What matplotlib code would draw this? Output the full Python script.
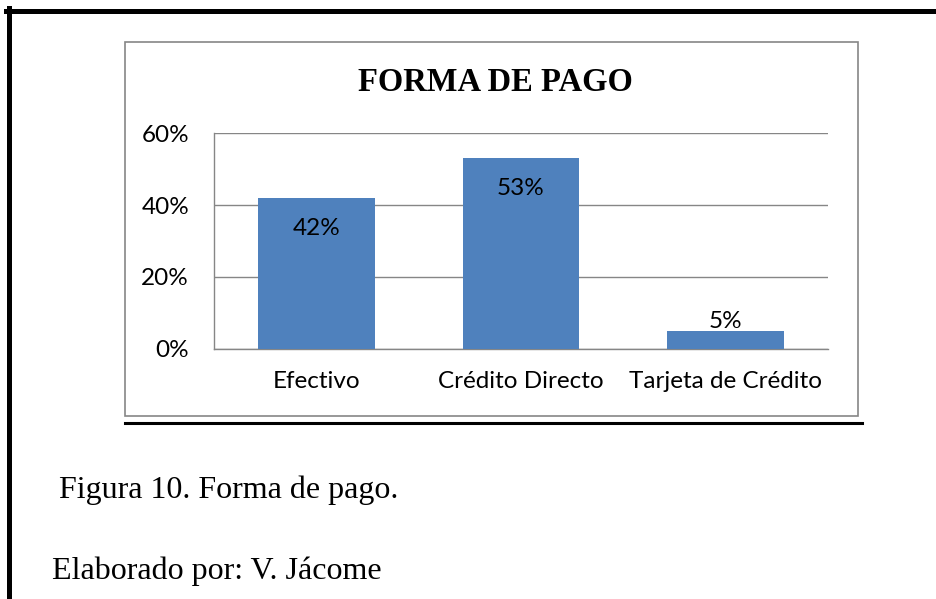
import matplotlib.pyplot as plt
from matplotlib.patches import Rectangle
from matplotlib.lines import Line2D
from matplotlib.ticker import FuncFormatter

# datos del grafico
categorias = ['Efectivo', 'Crédito Directo', 'Tarjeta de Crédito']
porcentajes = [42, 53, 5]
ticks_y = [0, 20, 40, 60]
titulo = 'FORMA DE PAGO'
pie_figura = 'Figura 10. Forma de pago.'
autor = 'Elaborado por: V. Jácome'

W, H = 936, 599
fig = plt.figure(figsize=(W / 100, H / 100), dpi=100)


def fx(px):
    return px / W


def fy(py):
    return 1 - py / H


gris = '#868686'
azul = '#4F81BD'
fs = 17.5

# marco exterior negro (arriba e izquierda)
fig.add_artist(Line2D([fx(6), fx(936)], [fy(10.5), fy(10.5)], color='black', lw=3.6))
fig.add_artist(Line2D([fx(8.5), fx(8.5)], [fy(8), fy(599)], color='black', lw=3.6))

# cuadro del grafico
fig.add_artist(Rectangle((fx(125), fy(415.5)), fx(858) - fx(125), fy(42) - fy(415.5),
                         transform=fig.transFigure, fill=False, edgecolor=gris, lw=1.2))
fig.add_artist(Line2D([fx(125), fx(862)], [fy(423), fy(423)], color='black', lw=2.2))

ax = fig.add_axes([fx(214), fy(348.7), fx(828) - fx(214), fy(133.3) - fy(348.7)])
x = range(len(categorias))
ax.bar(x, porcentajes, width=0.57, color=azul, zorder=3)

for xi, v in zip(x, porcentajes):
    if v > 10:
        ax.annotate(f'{v}%', (xi, v), xytext=(0, -22), textcoords='offset points',
                    ha='center', va='center', fontsize=fs, family='Lato', zorder=4)
    else:
        ax.annotate(f'{v}%', (xi, v), xytext=(0, 6.5), textcoords='offset points',
                    ha='center', va='center', fontsize=fs, family='Lato', zorder=4)

ax.set_xlim(-0.5, 2.5)
ax.set_ylim(0, 60)
ax.set_yticks(ticks_y)
ax.yaxis.set_major_formatter(FuncFormatter(lambda v, p: f'{v:.0f}%'))
ax.set_xticks(list(x))
ax.set_xticklabels(categorias)
ax.grid(axis='y', color=gris, lw=1.0, zorder=0)
ax.tick_params(axis='both', length=0, labelsize=fs)
ax.tick_params(axis='x', pad=16)
ax.tick_params(axis='y', pad=18)
for lab in ax.get_xticklabels() + ax.get_yticklabels():
    lab.set_family('Lato')
for s in ['top', 'right']:
    ax.spines[s].set_visible(False)
ax.spines['left'].set_color(gris)
ax.spines['bottom'].set_color(gris)
ax.spines['left'].set_linewidth(1.0)
ax.spines['bottom'].set_linewidth(1.0)

fig.text(fx(495.5), fy(90.7), titulo, ha='center', va='baseline',
         family='Liberation Serif', weight='bold', fontsize=23.5)
fig.text(fx(59), fy(497.7), pie_figura, ha='left', va='baseline',
         family='Liberation Serif', fontsize=23)
fig.text(fx(52), fy(579), autor, ha='left', va='baseline',
         family='Liberation Serif', fontsize=23)

fig.savefig('out.png', dpi=100)
